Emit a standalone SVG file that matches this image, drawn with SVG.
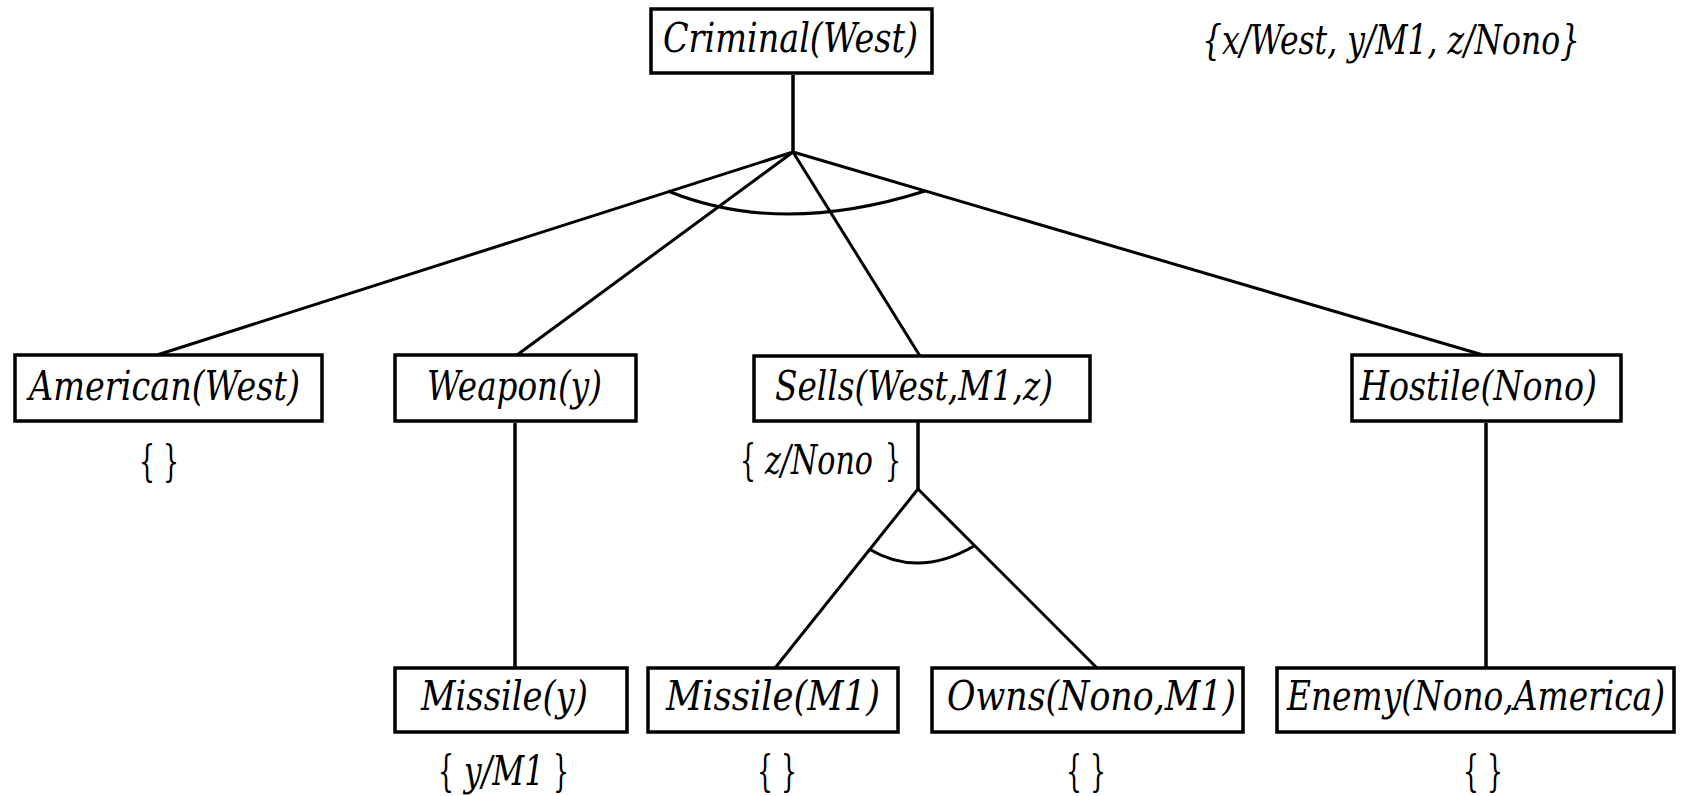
<svg xmlns="http://www.w3.org/2000/svg" width="1688" height="796" viewBox="0 0 1688 796">
<style>
.box{fill:#fff;stroke:#000;stroke-width:3.5}
.lbl{font-family:'DejaVu Serif',serif;font-style:italic;font-size:41px;fill:#000}
.br{font-family:'DejaVu Serif',serif;font-style:normal;font-size:42px;fill:#000}
.edge{stroke:#000;stroke-width:3;fill:none}
</style>
<rect width="1688" height="796" fill="#fff"/>
<g id="connectors">
<line class="edge" x1="793" y1="75" x2="793" y2="152" style="stroke-width:3.5"/>
<line class="edge" x1="793" y1="152" x2="157" y2="355"/>
<line class="edge" x1="793" y1="152" x2="517" y2="355"/>
<line class="edge" x1="793" y1="152" x2="920" y2="356"/>
<line class="edge" x1="793" y1="152" x2="1483" y2="355"/>
<path class="edge" d="M668,191 Q780,237 925,191"/>
<line class="edge" x1="918" y1="422" x2="918" y2="489" style="stroke-width:3.5"/>
<line class="edge" x1="918" y1="489" x2="775" y2="668"/>
<line class="edge" x1="918" y1="489" x2="1097" y2="668"/>
<path class="edge" d="M869,549 Q918.5,578.5 974,546"/>
<line class="edge" x1="515" y1="423" x2="515" y2="668" style="stroke-width:3.5"/>
<line class="edge" x1="1486" y1="423" x2="1486" y2="668" style="stroke-width:3.5"/>
</g>
<g id="criminal">
<rect class="box" x="651" y="9" width="281" height="64"/>
<text class="lbl" x="663" y="52" textLength="255" lengthAdjust="spacingAndGlyphs">Criminal(West)</text>
</g>
<g id="answer">
<text class="lbl" x="1202" y="54" textLength="378" lengthAdjust="spacingAndGlyphs">{x/West, y/M1, z/Nono}</text>
</g>
<g id="american">
<rect class="box" x="15" y="355" width="307" height="66"/>
<text class="lbl" x="29" y="400" textLength="271" lengthAdjust="spacingAndGlyphs">American(West)</text>
<text class="br" x="159" y="476" text-anchor="middle" textLength="40" lengthAdjust="spacingAndGlyphs">{ }</text>
</g>
<g id="weapon">
<rect class="box" x="395" y="355" width="241" height="66"/>
<text class="lbl" x="427" y="400" textLength="175" lengthAdjust="spacingAndGlyphs">Weapon(y)</text>
</g>
<g id="sells">
<rect class="box" x="754" y="356" width="336" height="65"/>
<text class="lbl" x="775" y="400" textLength="278" lengthAdjust="spacingAndGlyphs">Sells(West,M1,z)</text>
<text class="br" x="740" y="475" textLength="16" lengthAdjust="spacingAndGlyphs">{</text>
<text class="lbl" x="765" y="474" textLength="108" lengthAdjust="spacingAndGlyphs">z/Nono</text>
<text class="br" x="885" y="475" textLength="16" lengthAdjust="spacingAndGlyphs">}</text>
</g>
<g id="hostile">
<rect class="box" x="1352" y="355" width="269" height="66"/>
<text class="lbl" x="1360" y="400" textLength="237" lengthAdjust="spacingAndGlyphs">Hostile(Nono)</text>
</g>
<g id="missile-y">
<rect class="box" x="395" y="668" width="232" height="64"/>
<text class="lbl" x="421" y="710" textLength="167" lengthAdjust="spacingAndGlyphs">Missile(y)</text>
<text class="br" x="438" y="786" textLength="16" lengthAdjust="spacingAndGlyphs">{</text>
<text class="lbl" x="464" y="785" textLength="80" lengthAdjust="spacingAndGlyphs">y/M1</text>
<text class="br" x="553" y="786" textLength="16" lengthAdjust="spacingAndGlyphs">}</text>
</g>
<g id="missile-m1">
<rect class="box" x="648" y="668" width="250" height="64"/>
<text class="lbl" x="666" y="710" textLength="214" lengthAdjust="spacingAndGlyphs">Missile(M1)</text>
<text class="br" x="777" y="786" text-anchor="middle" textLength="40" lengthAdjust="spacingAndGlyphs">{ }</text>
</g>
<g id="owns">
<rect class="box" x="932" y="668" width="311" height="64"/>
<text class="lbl" x="947" y="710" textLength="289" lengthAdjust="spacingAndGlyphs">Owns(Nono,M1)</text>
<text class="br" x="1086" y="786" text-anchor="middle" textLength="40" lengthAdjust="spacingAndGlyphs">{ }</text>
</g>
<g id="enemy">
<rect class="box" x="1277" y="668" width="397" height="64"/>
<text class="lbl" x="1287" y="710" textLength="378" lengthAdjust="spacingAndGlyphs">Enemy(Nono,America)</text>
<text class="br" x="1483" y="786" text-anchor="middle" textLength="40" lengthAdjust="spacingAndGlyphs">{ }</text>
</g>
</svg>
